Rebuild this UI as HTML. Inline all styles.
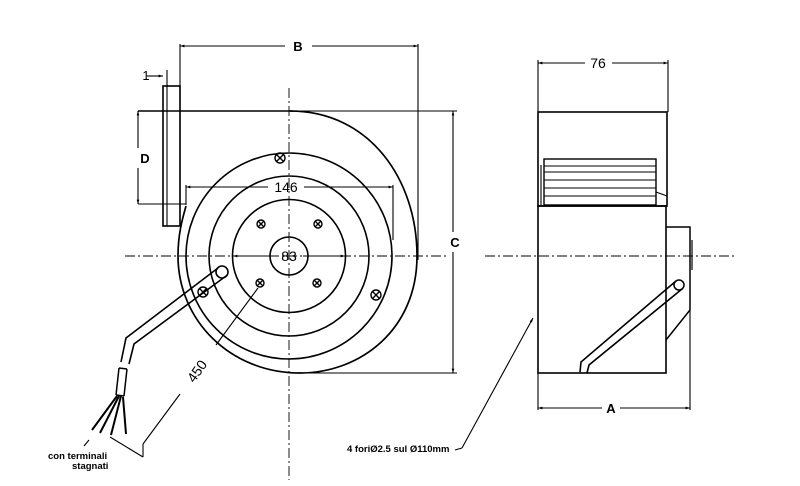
<!DOCTYPE html>
<html><head><style>body{margin:0;background:#fff}svg{display:block}</style></head><body>
<svg width="800" height="486" viewBox="0 0 800 486" xmlns="http://www.w3.org/2000/svg" font-family="Liberation Sans, sans-serif">
<defs><marker id="a" viewBox="0 0 10 10" refX="10" refY="5" markerWidth="6" markerHeight="4" orient="auto-start-reverse"><path d="M0,2 L10,5 L0,8z" fill="#000"/></marker></defs>
<g stroke="#000" fill="none" stroke-width="1.1">
<!-- center lines -->
<g stroke-dasharray="10,3,2,3" stroke-width="0.9">
<line x1="125" y1="256" x2="448" y2="256"/><line x1="289" y1="88" x2="289" y2="480"/>
<line x1="485" y1="256" x2="735" y2="256"/></g>
<!-- B -->
<line x1="180" y1="46" x2="285" y2="46" marker-start="url(#a)"/><line x1="312" y1="46" x2="418" y2="46" marker-end="url(#a)"/>
<line x1="180" y1="44" x2="180" y2="226"/><line x1="418" y1="44" x2="418" y2="260"/>
<!-- 1 -->
<line x1="147" y1="76" x2="163" y2="76" marker-end="url(#a)"/><line x1="167" y1="70" x2="167" y2="226"/>
<!-- flange -->
<rect x="163" y="86" width="17" height="140" stroke-width="1.6"/>
<!-- housing top & extensions -->
<line x1="138" y1="111" x2="292" y2="111" stroke-width="1.6"/>
<line x1="292" y1="111" x2="457" y2="111"/>
<line x1="300" y1="373" x2="457" y2="373"/>
<!-- D -->
<line x1="138" y1="111" x2="138" y2="148" marker-start="url(#a)"/><line x1="138" y1="168" x2="138" y2="204" marker-end="url(#a)"/>
<line x1="138" y1="204" x2="186" y2="204"/>
<!-- C -->
<line x1="453" y1="111" x2="453" y2="232" marker-start="url(#a)"/><line x1="453" y1="252" x2="453" y2="373" marker-end="url(#a)"/>
<!-- scroll -->
<path d="M290,111 C370,111 417,180 417,256 C417,330 360,373 300,373 C230,373 178,320 178,256 C178,235 182,220 186,206" stroke-width="1.7"/>
<circle cx="289" cy="256" r="103" stroke-width="1.6"/>
<circle cx="289" cy="256" r="80" stroke-width="1.6"/>
<circle cx="289" cy="256" r="56.5" stroke-width="1.6"/>
<circle cx="289" cy="256" r="19" stroke-width="1.6"/>
<!-- 146 -->
<line x1="186" y1="187" x2="268" y2="187" marker-start="url(#a)"/><line x1="304" y1="187" x2="393" y2="187" marker-end="url(#a)"/>
<line x1="186" y1="185" x2="186" y2="205"/><line x1="393" y1="185" x2="393" y2="240"/>
<!-- 83 -->
<line x1="233" y1="256" x2="275" y2="256" marker-start="url(#a)"/><line x1="303" y1="256" x2="345" y2="256" marker-end="url(#a)"/>
<!-- screws -->
<g stroke-width="1.4">
<circle cx="280" cy="158" r="5"/><path d="M276.5,154.5l7,7M283.5,154.5l-7,7"/>
<circle cx="203" cy="292" r="5"/><path d="M199.5,288.5l7,7M206.5,288.5l-7,7"/>
<circle cx="376" cy="295" r="5"/><path d="M372.5,291.5l7,7M379.5,291.5l-7,7"/>
<circle cx="261" cy="224" r="4"/><path d="M258.5,221.5l5,5M263.5,221.5l-5,5"/>
<circle cx="318" cy="224" r="4"/><path d="M315.5,221.5l5,5M320.5,221.5l-5,5"/>
<circle cx="260" cy="283" r="4"/><path d="M257.5,280.5l5,5M262.5,280.5l-5,5"/>
<circle cx="317" cy="283" r="4"/><path d="M314.5,280.5l5,5M319.5,280.5l-5,5"/>
</g>
<!-- cable left -->
<circle cx="222" cy="272" r="6" stroke-width="1.6"/>
<path d="M218,268 L126,338 L121,362 M226,276 L134,344 L129,364" stroke-width="1.6"/>
<path d="M119,368 L116,395 M127,369 L124,396 M119,368 L127,369 M116,395 L124,396" stroke-width="1.5"/>
<path d="M117,396 L92,430 M119,396 L100,433 M121,396 L111,435 M123,397 L126,434" stroke-width="2"/>
<!-- 450 -->
<line x1="258" y1="288" x2="216" y2="345"/><line x1="180" y1="394" x2="143" y2="444"/>
<line x1="110" y1="437" x2="143" y2="457"/><line x1="143" y1="444" x2="143" y2="457"/>
<line x1="89" y1="440" x2="84" y2="446"/>
<!-- right view -->
<line x1="538" y1="63" x2="585" y2="63" marker-start="url(#a)"/><line x1="612" y1="63" x2="668" y2="63" marker-end="url(#a)"/>
<line x1="538" y1="60" x2="538" y2="112"/><line x1="668" y1="60" x2="668" y2="112"/>
<rect x="538" y="112" width="129" height="94" stroke-width="1.6"/>
<rect x="538" y="206" width="128" height="167" stroke-width="1.6"/>
<rect x="544" y="159" width="112" height="46" stroke-width="1.4"/>
<path d="M544,166H656M544,172H656M544,180H656M544,188H656M544,196H656" stroke-width="1"/>
<path d="M541,165V205M656,192L667,196" stroke-width="1.1"/>
<path d="M666,227H690V310L666,340" stroke-width="1.5"/>
<path d="M692,240V270" stroke-width="1.2"/>
<circle cx="679" cy="285" r="5" stroke-width="1.5"/>
<path d="M676,281 L581,362 L580,372 M682,289 L589,365 L587,373" stroke-width="1.6"/>
<line x1="538" y1="373" x2="538" y2="410"/><line x1="690" y1="310" x2="690" y2="410"/>
<line x1="538" y1="408" x2="602" y2="408" marker-start="url(#a)"/><line x1="620" y1="408" x2="690" y2="408" marker-end="url(#a)"/>
<!-- leader -->
<line x1="455" y1="450" x2="462" y2="448"/>
<line x1="462" y1="448" x2="533" y2="318" marker-end="url(#a)"/>
</g>
<g font-family="Liberation Sans, sans-serif">
<text x="298" y="51" font-size="13" font-weight="bold" text-anchor="middle">B</text>
<text x="146" y="80" font-size="13" text-anchor="middle">1</text>
<text x="145" y="163" font-size="13" font-weight="bold" text-anchor="middle">D</text>
<text x="455" y="247" font-size="13" font-weight="bold" text-anchor="middle">C</text>
<text x="286" y="192" font-size="14" text-anchor="middle">146</text>
<text x="289" y="261" font-size="14" text-anchor="middle">83</text>
<text x="598" y="68" font-size="14" text-anchor="middle">76</text>
<text x="611" y="413" font-size="13" font-weight="bold" text-anchor="middle">A</text>
<text x="0" y="0" font-size="14" text-anchor="middle" transform="translate(201,374) rotate(-55)">450</text>
<text x="48" y="459" font-size="9.5" font-weight="bold">con  terminali</text>
<text x="72" y="469" font-size="9.5" font-weight="bold">stagnati</text>
<text x="347" y="452" font-size="9.5" font-weight="bold">4  foriØ2.5  sul  Ø110mm</text>
</g>
</svg>
</body></html>
